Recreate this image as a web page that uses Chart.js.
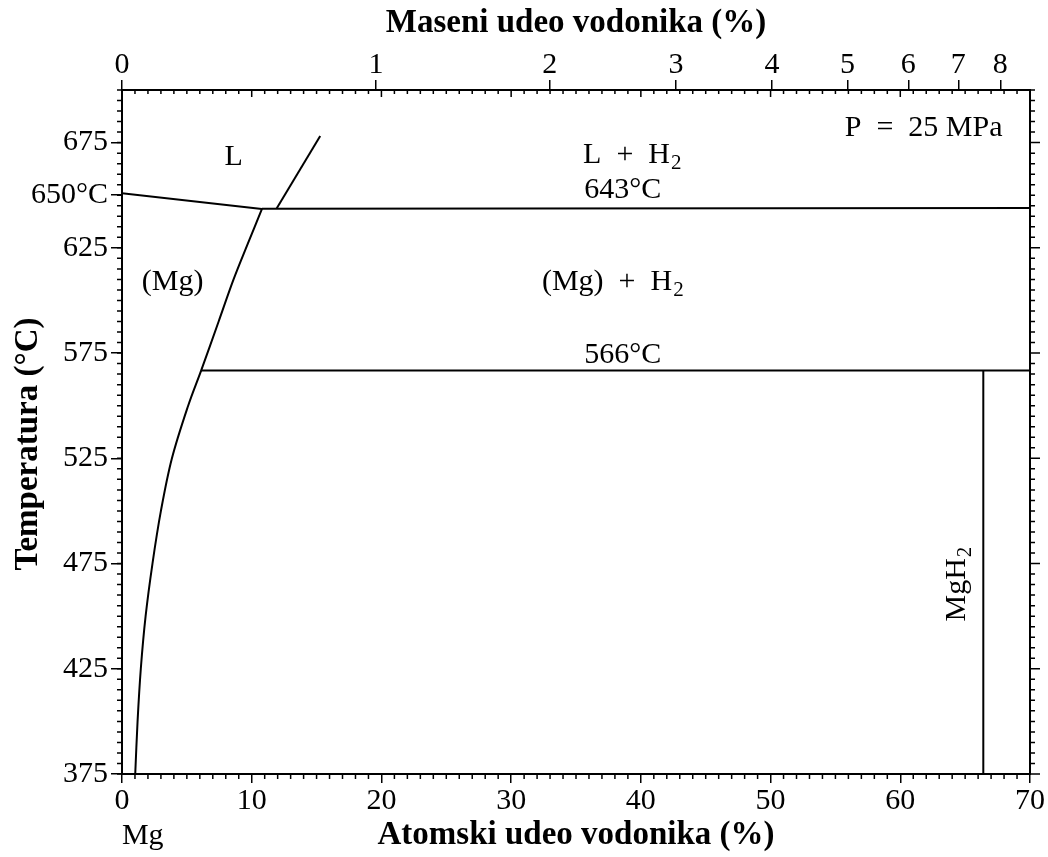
<!DOCTYPE html>
<html><head><meta charset="utf-8">
<script src="https://cdn.jsdelivr.net/npm/chart.js@4.4.0/dist/chart.umd.min.js"></script>
<style>html,body{margin:0;padding:0;background:#fff}#wrap{width:1048px;height:857px}</style>
</head><body><div id="wrap"><canvas id="c" width="1048" height="857"></canvas></div>
<script>
// ---- tick labels ----
const atomicTicks = [0,10,20,30,40,50,60,70];
const tempTicks = [375,425,475,525,575,625,650,675];
const massTicks = [0,1,2,3,4,5,6,7,8];

// ---- phase boundaries (atomic % H, temperature °C) ----
const solvusX = [1.02,1.2,1.45,1.82,2.35,3.0,3.85,5.1,6.1,7.45,8.6,9.7,10.79];
const solvusT = [375,400,425,450,475,500,525,550,566.7,590,610,627,643.5];
const liquidusX = [0,10.79];
const liquidusT = [650.9,643.5];
const line643X = [10.79,70];
const line643T = [643.6,643.9];
const gasBoundX = [11.92,15.28];
const gasBoundT = [643.7,678.1];
const line566X = [6.1,70];
const line566T = [566.7,566.7];
const hydrideX = [66.4,66.4];
const hydrideT = [566.7,375];

// ---- annotations ----
const notes = [
  {t:'L', x:8.6, T:668},
  {t:'L\u2002+\u2002H', sub:'2', x:39.3, T:669},
  {t:'643°C', x:38.6, T:652.5},
  {t:'P\u2002=\u200225 MPa', x:61.8, T:682},
  {t:'(Mg)', x:3.9, T:608.5},
  {t:'(Mg)\u2002+\u2002H', sub:'2', x:37.8, T:608.5},
  {t:'566°C', x:38.6, T:574},
  {t:'MgH', sub:'2', x:64.4, T:465, rot:-Math.PI/2}
];

const FONT = "'Liberation Serif','Times New Roman',serif";
const zip = (xs, ts) => xs.map((v,i)=>({x:v, y:ts[i]}));
const toAtomic = w => { const h = w/1.008, m = (100-w)/24.305; return 100*h/(h+m); };

function ds(xs, ts, tension){
  return {data: zip(xs, ts), showLine:true, borderColor:'#000', borderWidth:2,
          pointRadius:0, fill:false, tension: tension||0};
}

const framePlugin = {
  id:'frame',
  afterDraw(chart){
    const {ctx, chartArea:a, scales:{x, y}} = chart;
    ctx.save();
    ctx.strokeStyle='#000'; ctx.lineWidth=2;
    ctx.strokeRect(a.left, a.top, a.right-a.left, a.bottom-a.top);
    ctx.lineWidth=1.5;
    ctx.beginPath();
    for (let v=x.min; v<=x.max; v+=1){
      const px = x.getPixelForValue(v);
      const major = v%10===0;
      if(!major){ ctx.moveTo(px,a.bottom); ctx.lineTo(px,a.bottom+5); }
      ctx.moveTo(px,a.top); ctx.lineTo(px,a.top+(major?7:4));
    }
    for (let v=y.min; v<=y.max; v+=5){
      const py = y.getPixelForValue(v);
      const major = (v-375)%50===0;
      ctx.moveTo(a.left,py); ctx.lineTo(a.left-5,py);
      ctx.moveTo(a.right,py); ctx.lineTo(a.right+(major?10:5),py);
    }
    ctx.stroke();

    // annotations
    ctx.fillStyle='#000';
    ctx.textBaseline='middle';
    notes.forEach(n=>{
      const px = x.getPixelForValue(n.x), py = y.getPixelForValue(n.T);
      ctx.save();
      ctx.translate(px,py);
      if(n.rot) ctx.rotate(n.rot);
      ctx.font = '30px '+FONT;
      const w1 = ctx.measureText(n.t).width;
      let w2 = 0;
      if(n.sub){ ctx.font='21px '+FONT; w2 = ctx.measureText(n.sub).width; }
      const start = -(w1+w2)/2;
      ctx.textAlign='left';
      ctx.font = '30px '+FONT;
      ctx.fillText(n.t, start, 0);
      if(n.sub){ ctx.font='21px '+FONT; ctx.fillText(n.sub, start+w1+1, 8); }
      ctx.restore();
    });
    // element symbol under the origin
    ctx.font='30px '+FONT; ctx.textAlign='center';
    ctx.fillText('Mg', x.getPixelForValue(1.6), a.bottom+62);
    // left axis title
    ctx.save();
    ctx.translate(28, (a.top+a.bottom)/2 + 12);
    ctx.rotate(-Math.PI/2);
    ctx.font='bold 33px '+FONT; ctx.textAlign='center';
    ctx.fillText('Temperatura (°C)', 0, 0);
    ctx.restore();
    ctx.restore();
  }
};

const tickFont = {family:FONT, size:30, lineHeight:1};

new Chart(document.getElementById('c').getContext('2d'), {
  type:'scatter',
  data:{datasets:[
    ds(solvusX, solvusT, 0.35),
    ds(liquidusX, liquidusT),
    ds(line643X, line643T),
    ds(gasBoundX, gasBoundT),
    ds(line566X, line566T),
    ds(hydrideX, hydrideT)
  ]},
  options:{
    responsive:false, animation:false, devicePixelRatio:1,
    layout:{padding:{left:0,right:18,top:0,bottom:0}},
    plugins:{legend:{display:false}, tooltip:{enabled:false}},
    scales:{
      x:{type:'linear', position:'bottom', min:0, max:70,
        afterBuildTicks: s => { s.ticks = atomicTicks.map(v=>({value:v})); },
        afterFit: s => { s.height = 83; },
        ticks:{font:tickFont, color:'#000', padding:3, maxRotation:0, autoSkip:false},
        grid:{display:true, drawOnChartArea:false, drawTicks:true, tickLength:9, color:'#000', lineWidth:1.5},
        border:{display:true, color:'#000', width:2},
        title:{display:true, text:'Atomski udeo vodonika (%)', color:'#000',
               font:{family:FONT, size:33, weight:'bold'}, padding:{top:0,bottom:2}}
      },
      x2:{type:'linear', position:'top', min:0, max:70,
        afterBuildTicks: s => { s.ticks = massTicks.map(w=>({value:toAtomic(w)})); },
        afterFit: s => { s.height = 90; },
        ticks:{font:tickFont, color:'#000', padding:0, maxRotation:0, autoSkip:false,
               callback:(v,i)=>String(massTicks[i])},
        grid:{display:true, drawOnChartArea:false, drawTicks:true, tickLength:10, color:'#000', lineWidth:1.5},
        border:{display:true, color:'#000', width:2},
        title:{display:true, text:'Maseni udeo vodonika (%)', color:'#000',
               font:{family:FONT, size:33, weight:'bold'}, padding:{top:4,bottom:0}}
      },
      y:{type:'linear', position:'left', min:375, max:700,
        afterBuildTicks: s => { s.ticks = tempTicks.map(v=>({value:v})); },
        afterFit: s => { s.width = 122; },
        ticks:{font:tickFont, color:'#000', padding:3, autoSkip:false,
               callback:v => v===650 ? '650°C' : String(v)},
        grid:{display:true, drawOnChartArea:false, drawTicks:true, tickLength:11, color:'#000', lineWidth:1.5},
        border:{display:true, color:'#000', width:2},
        title:{display:false}
      }
    }
  },
  plugins:[framePlugin]
});
</script></body></html>
